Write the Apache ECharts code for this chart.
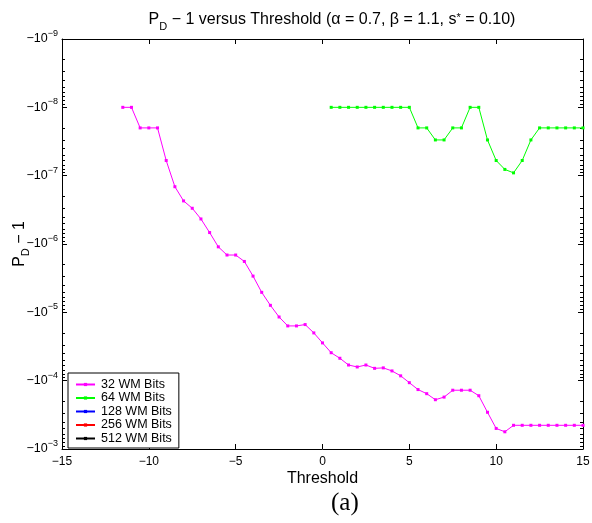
<!DOCTYPE html>
<html>
<head>
<meta charset="utf-8">
<script src="https://cdn.jsdelivr.net/npm/echarts@6/dist/echarts.min.js"></script>
<style>html,body{margin:0;padding:0;background:#fff}#c{width:592px;height:523px}</style>
</head>
<body>
<div id="c"></div>
<script>
// ---- data (P_D - 1 values) ----
var threshold32 = [-11.5,-11,-10.5,-10,-9.5,-9,-8.5,-8,-7.5,-7,-6.5,-6,-5.5,-5,-4.5,-4,-3.5,-3,-2.5,-2,-1.5,-1,-0.5,0,0.5,1,1.5,2,2.5,3,3.5,4,4.5,5,5.5,6,6.5,7,7.5,8,8.5,9,9.5,10,10.5,11,11.5,12,12.5,13,13.5,14,14.5,15];
var values32 = [-1.0e-8,-1.0e-8,-2.0e-8,-2.0e-8,-2.0e-8,-6.0e-8,-1.45e-7,-2.34e-7,-3.0e-7,-4.3e-7,-6.8e-7,-1.1e-6,-1.45e-6,-1.45e-6,-1.8e-6,-2.95e-6,-5.1e-6,-7.9e-6,-1.17e-5,-1.58e-5,-1.58e-5,-1.51e-5,-2.0e-5,-2.8e-5,-3.9e-5,-4.7e-5,-5.9e-5,-6.3e-5,-5.9e-5,-6.6e-5,-6.5e-5,-7.2e-5,-8.5e-5,-1.07e-4,-1.35e-4,-1.55e-4,-1.9e-4,-1.74e-4,-1.38e-4,-1.38e-4,-1.38e-4,-1.66e-4,-2.9e-4,-5.0e-4,-5.6e-4,-4.5e-4,-4.5e-4,-4.5e-4,-4.5e-4,-4.5e-4,-4.5e-4,-4.5e-4,-4.5e-4,-4.5e-4];
var threshold64 = [0.5,1,1.5,2,2.5,3,3.5,4,4.5,5,5.5,6,6.5,7,7.5,8,8.5,9,9.5,10,10.5,11,11.5,12,12.5,13,13.5,14,14.5,15];
var values64 = [-1e-8,-1e-8,-1e-8,-1e-8,-1e-8,-1e-8,-1e-8,-1e-8,-1e-8,-1e-8,-2e-8,-2e-8,-3e-8,-3e-8,-2e-8,-2e-8,-1e-8,-1e-8,-3e-8,-6e-8,-8.1e-8,-9.1e-8,-6e-8,-3e-8,-2e-8,-2e-8,-2e-8,-2e-8,-2e-8,-2e-8];
var seriesNames = ['32 WM Bits','64 WM Bits','128 WM Bits','256 WM Bits','512 WM Bits'];
var seriesColors = ['#ff00ff','#00ff00','#0000ff','#ff0000','#000000'];
var xTicks = [-15,-10,-5,0,5,10,15];
var yDecades = [-9,-8,-7,-6,-5,-4,-3];

// ---- helpers ----
function pairs(xs, vs){ return xs.map(function(x,i){ return [x, -vs[i]]; }); } // plot magnitude on inverted log axis
var majorVals = yDecades.map(function(e){ return Math.pow(10,e); });
var minorVals = [];
for (var d = 0; d < yDecades.length-1; d++) {
  for (var m = 2; m <= 9; m++) minorVals.push(m*Math.pow(10,yDecades[d]));
}
var FONT = 'Liberation Sans';
function yLabel(v){
  var e = Math.round(Math.log10(v));
  return '{b|\u221210}{s|' + (e < 0 ? '\u2212' : '') + Math.abs(e) + '}';
}
var yRich = {
  b: {fontSize: 12.5, fontFamily: FONT, color: '#000'},
  s: {fontSize: 9, fontFamily: FONT, color: '#000', verticalAlign: 'bottom', padding: [0,0,11,0]}
};
function yAx(pos, show, ticks, len, labels){
  return {
    type: 'log', logBase: 10, inverse: true, min: 1e-9, max: 1e-3, position: pos,
    gridIndex: 0,
    axisLine: {show: show, onZero: false, lineStyle: {color: '#000', width: 1}},
    axisTick: {show: true, inside: true, length: len, customValues: ticks, lineStyle: {color: '#000', width: 1}},
    axisLabel: labels ? {show: true, customValues: majorVals, formatter: yLabel, rich: yRich, margin: 4} : {show: false},
    splitLine: {show: false}, minorTick: {show: false}
  };
}
function xAx(pos, labels){
  return {
    type: 'value', min: -15, max: 15, interval: 5, position: pos,
    axisLine: {show: true, onZero: false, lineStyle: {color: '#000', width: 1}},
    axisTick: {show: true, inside: true, length: 5, lineStyle: {color: '#000'}},
    axisLabel: labels ? {show: true, fontSize: 12, fontFamily: FONT, color: '#000', margin: 7,
      formatter: function(v){ return v < 0 ? '\u2212' + Math.abs(v) : String(v); }} : {show: false},
    splitLine: {show: false}
  };
}

var yAxes = [yAx('left', true, majorVals, 5, true), yAx('left', false, minorVals, 3, false),
             yAx('right', true, majorVals, 5, false), yAx('right', false, minorVals, 3, false)];
yAxes[0].name = '{p|P}{d|D}{p| \u2212 1}';
yAxes[0].nameLocation = 'middle';
yAxes[0].nameGap = 31;
yAxes[0].nameRotate = 90;
yAxes[0].nameMoveOverlap = false;
yAxes[0].nameTextStyle = {rich: {
  p: {fontSize: 16, fontFamily: FONT, color: '#000'},
  d: {fontSize: 11, fontFamily: FONT, color: '#000', verticalAlign: 'top', padding: [12,0,0,0]}
}};
var xAxes = [xAx('bottom', true), xAx('top', false)];
xAxes[0].name = 'Threshold';
xAxes[0].nameLocation = 'middle';
xAxes[0].nameGap = 22;
xAxes[0].nameMoveOverlap = false;
xAxes[0].nameTextStyle = {fontSize: 16, fontFamily: FONT, color: '#000'};

var dataSets = [pairs(threshold32, values32), pairs(threshold64, values64), [], [], []];
var series = seriesNames.map(function(n, i){
  return {
    name: n, type: 'line', data: dataSets[i], xAxisIndex: 0, yAxisIndex: 0,
    symbol: 'rect', symbolSize: 3, showSymbol: true, animation: false,
    lineStyle: {color: seriesColors[i], width: 1}, itemStyle: {color: seriesColors[i]},
    emphasis: {disabled: true}
  };
});

var chart = echarts.init(document.getElementById('c'), null, {renderer: 'canvas'});
chart.setOption({
  animation: false,
  backgroundColor: '#fff',
  grid: {left: 62, right: 9, top: 39, bottom: 74, containLabel: false, outerBoundsMode: 'none'},
  title: {
    text: '{p|P}{d|D}{p| \u2212 1 versus Threshold (\u03b1 = 0.7, \u03b2 = 1.1, s}{u|*}{p| = 0.10)}',
    left: 327, top: 3, textAlign: 'center',
    textStyle: {fontWeight: 'normal', rich: {
      p: {fontSize: 16, fontWeight: 'normal', fontFamily: FONT, color: '#000'},
      d: {fontSize: 11, fontWeight: 'normal', fontFamily: FONT, color: '#000', verticalAlign: 'top', padding: [13,0,0,0]},
      u: {fontSize: 11, fontWeight: 'normal', fontFamily: FONT, color: '#000', verticalAlign: 'bottom', padding: [0,0,9,0]}
    }}
  },
  legend: {
    orient: 'vertical', left: 68, top: 373, data: seriesNames,
    backgroundColor: '#fff', borderColor: '#000', borderWidth: 1, borderRadius: 0,
    padding: [5, 7, 3, 7], itemGap: 0.5, itemWidth: 19, itemHeight: 4,
    textStyle: {fontSize: 12.5, lineHeight: 12, fontFamily: FONT, color: '#000', padding: [0,0,0,1]},
    selectedMode: false
  },
  xAxis: xAxes,
  yAxis: yAxes,
  series: series,
  graphic: [{
    type: 'text', left: 331, top: 491,
    style: {text: '(a)', fontSize: 25, fontFamily: 'Liberation Serif', fill: '#000'}
  }]
});
</script>
</body>
</html>
